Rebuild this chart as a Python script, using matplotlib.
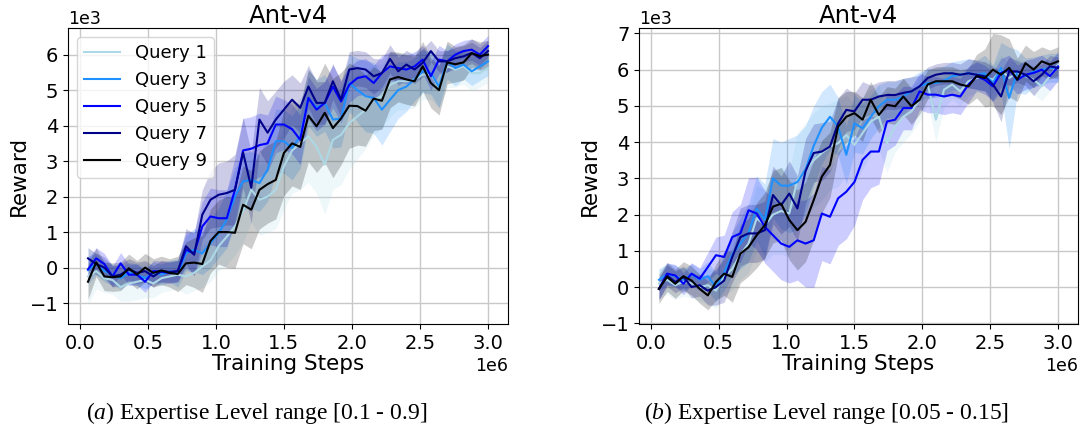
import numpy as np
import matplotlib
matplotlib.use("Agg")
import matplotlib.pyplot as plt
from matplotlib.ticker import MultipleLocator

# ---------------- data (steps in millions, rewards in thousands) ----------------
steps_m = [0.06, 0.12, 0.18, 0.24, 0.30, 0.36, 0.42, 0.48, 0.54, 0.60,
           0.66, 0.72, 0.78, 0.84, 0.90, 0.96, 1.02, 1.08, 1.14, 1.20,
           1.26, 1.32, 1.38, 1.44, 1.50, 1.56, 1.62, 1.68, 1.74, 1.80,
           1.86, 1.92, 1.98, 2.04, 2.10, 2.16, 2.22, 2.28, 2.34, 2.40,
           2.46, 2.52, 2.58, 2.64, 2.70, 2.76, 2.82, 2.88, 2.94, 3.00]

labels = ["Query 1", "Query 3", "Query 5", "Query 7", "Query 9"]
colors = ["lightblue", "dodgerblue", "blue", "darkblue", "black"]

# ----- panel (a) means -----
a_q1 = [-0.25, -0.1, -0.3, -0.35, -0.55, -0.45, -0.4, -0.35, -0.45, -0.3,
        -0.25, -0.2, -0.25, -0.15, 0.03, 0.2, 0.6, 0.87, 1.16, 1.6,
        2.19, 1.91, 2.0, 2.19, 2.85, 3.3, 3.5, 3.7, 3.4, 2.9,
        3.6, 3.74, 4.07, 4.26, 4.45, 4.73, 4.83, 5.15, 5.25, 5.25,
        5.3, 5.44, 5.44, 5.1, 5.67, 5.58, 5.67, 5.48, 5.48, 5.62]
a_q3 = [-0.07, 0.1, -0.1, -0.2, -0.3, -0.15, -0.2, -0.3, -0.15, -0.2,
        -0.1, -0.15, 0.4, 0.5, 0.4, 0.69, 0.97, 1.35, 2.0, 2.43,
        2.47, 2.38, 2.76, 3.56, 3.56, 3.37, 3.7, 4.78, 4.5, 4.64,
        4.17, 4.2, 5.2, 5.0, 4.83, 4.78, 4.45, 4.73, 5.0, 5.1,
        5.3, 5.53, 5.48, 5.1, 5.81, 5.62, 5.72, 5.53, 5.67, 5.81]
a_q5 = [-0.05, 0.26, 0.1, -0.25, 0.12, -0.2, -0.2, -0.4, -0.1, -0.12,
        -0.15, -0.1, 0.5, 0.4, 1.16, 1.44, 1.39, 1.39, 2.19, 3.3,
        3.35, 3.45, 3.5, 4.03, 4.03, 3.9, 3.6, 4.78, 4.45, 4.64,
        5.1, 4.68, 5.15, 5.34, 5.39, 5.2, 5.48, 5.67, 5.62, 5.58,
        5.67, 5.86, 5.39, 5.86, 5.81, 6.0, 6.1, 6.14, 6.0, 6.24]
a_q7 = [0.26, 0.1, 0.0, -0.25, -0.2, -0.05, -0.15, -0.1, -0.25, -0.1,
        -0.12, -0.1, 0.6, 0.36, 1.49, 1.91, 2.05, 2.1, 2.19, 3.24,
        2.25, 4.17, 3.8, 4.17, 4.45, 4.73, 4.5, 5.1, 4.64, 4.64,
        5.25, 4.73, 5.58, 5.62, 5.58, 5.39, 5.48, 5.88, 5.53, 5.72,
        5.58, 5.77, 6.1, 5.81, 5.81, 5.9, 5.95, 6.05, 5.9, 6.1]
a_q9 = [-0.4, 0.15, -0.25, -0.27, -0.25, -0.02, -0.2, 0.0, -0.15, -0.08,
        -0.15, -0.18, 0.12, 0.14, 0.1, 0.75, 1.0, 1.0, 0.98, 1.77,
        1.63, 2.19, 2.35, 2.47, 3.23, 3.5, 3.4, 4.28, 3.98, 4.36,
        3.93, 4.2, 4.56, 4.55, 4.42, 4.76, 4.7, 5.3, 5.37, 5.3,
        5.25, 5.67, 5.2, 5.0, 5.78, 5.73, 5.78, 6.04, 5.96, 6.0]

# ----- panel (a) band half-widths -----
a_s1 = [0.8, 0.5, 0.4, 0.4, 0.4, 0.5, 0.5, 0.5, 0.4, 0.4,
        0.4, 0.4, 0.5, 0.5, 0.6, 0.6, 0.7, 0.8, 0.8, 0.9,
        0.9, 1.0, 1.0, 1.1, 1.2, 1.2, 1.3, 1.3, 1.3, 1.4,
        1.4, 1.4, 1.3, 1.2, 1.1, 1.0, 0.9, 0.9, 0.8, 0.8,
        0.8, 0.7, 0.7, 0.6, 0.6, 0.5, 0.5, 0.5, 0.4, 0.4]
a_s3 = [0.4, 0.3, 0.3, 0.3, 0.3, 0.3, 0.3, 0.3, 0.3, 0.3,
        0.3, 0.4, 0.5, 0.6, 0.6, 0.7, 0.7, 0.8, 0.8, 0.8,
        0.8, 0.8, 0.9, 0.9, 0.9, 0.9, 0.9, 0.8, 0.8, 0.8,
        0.8, 0.8, 0.8, 0.9, 1.0, 1.0, 1.0, 0.9, 0.8, 0.7,
        0.6, 0.6, 0.6, 0.6, 0.5, 0.5, 0.4, 0.4, 0.4, 0.4]
a_s5 = [0.3, 0.3, 0.3, 0.3, 0.3, 0.3, 0.3, 0.3, 0.3, 0.3,
        0.3, 0.3, 0.5, 0.6, 0.7, 0.8, 0.8, 0.8, 0.9, 0.9,
        0.9, 0.9, 0.8, 0.8, 0.7, 0.7, 0.7, 0.6, 0.6, 0.6,
        0.6, 0.6, 0.5, 0.5, 0.5, 0.5, 0.5, 0.4, 0.4, 0.4,
        0.4, 0.4, 0.4, 0.4, 0.3, 0.3, 0.3, 0.3, 0.3, 0.3]
a_s7 = [0.3, 0.3, 0.3, 0.3, 0.3, 0.3, 0.3, 0.3, 0.3, 0.3,
        0.3, 0.3, 0.5, 0.6, 0.7, 0.8, 0.9, 0.9, 1.0, 1.0,
        1.0, 0.9, 0.9, 0.8, 0.8, 0.7, 0.7, 0.6, 0.6, 0.6,
        0.5, 0.5, 0.5, 0.5, 0.5, 0.5, 0.4, 0.4, 0.4, 0.4,
        0.4, 0.4, 0.3, 0.3, 0.3, 0.3, 0.3, 0.3, 0.3, 0.3]
a_s9 = [0.5, 0.4, 0.4, 0.4, 0.4, 0.4, 0.4, 0.4, 0.4, 0.4,
        0.4, 0.5, 0.6, 0.7, 0.8, 0.9, 0.9, 1.0, 1.0, 1.1,
        1.1, 1.1, 1.1, 1.1, 1.2, 1.2, 1.2, 1.3, 1.3, 1.4,
        1.4, 1.3, 1.2, 1.1, 1.0, 0.9, 0.8, 0.8, 0.7, 0.7,
        0.7, 0.7, 0.7, 0.7, 0.6, 0.5, 0.5, 0.4, 0.4, 0.4]

# ----- panel (b) means -----
b_q1 = [0.1, 0.2, 0.05, 0.15, 0.1, 0.0, 0.05, -0.1, 0.3, 0.5,
        0.9, 1.2, 1.9, 1.7, 2.0, 2.1, 2.03, 2.95, 3.23, 3.5,
        3.7, 3.88, 3.97, 4.2, 3.92, 4.25, 4.57, 4.7, 3.97, 4.43,
        4.7, 4.85, 5.17, 5.59, 4.62, 5.45, 5.59, 5.4, 5.68, 5.77,
        5.82, 5.72, 6.0, 5.77, 5.91, 5.82, 5.72, 5.54, 5.82, 6.14]
b_q3 = [0.2, 0.35, 0.3, 0.2, 0.35, 0.2, 0.3, 0.0, 0.4, 0.9,
        1.2, 1.5, 2.17, 1.85, 3.0, 2.8, 2.8, 2.9, 3.25, 3.9,
        4.4, 4.7, 4.43, 3.65, 4.52, 4.38, 4.7, 4.99, 5.17, 5.17,
        5.26, 5.4, 5.54, 5.63, 5.63, 5.7, 5.82, 5.86, 5.9, 5.86,
        5.9, 5.63, 6.05, 5.22, 5.95, 5.82, 5.95, 6.0, 6.05, 6.05]
b_q5 = [-0.05, 0.37, 0.32, 0.09, 0.37, 0.23, 0.55, 0.88, 0.83, 1.38,
        1.48, 2.12, 2.03, 1.66, 1.43, 1.2, 1.11, 1.29, 1.2, 1.29,
        2.03, 1.94, 2.45, 2.63, 2.9, 3.51, 3.74, 3.74, 4.57, 4.62,
        4.94, 4.94, 5.4, 5.31, 5.31, 5.26, 5.31, 5.26, 5.59, 5.82,
        5.72, 5.54, 5.91, 6.0, 5.72, 5.86, 5.91, 6.0, 5.82, 6.09]
b_q7 = [-0.05, 0.32, 0.14, 0.28, 0.0, 0.05, -0.1, 0.0, 0.18, 0.83,
        1.38, 1.48, 1.48, 1.57, 2.54, 2.26, 2.58, 2.17, 3.2, 3.7,
        3.74, 3.88, 4.52, 4.89, 4.85, 5.17, 5.17, 5.26, 5.3, 5.3,
        5.36, 5.4, 5.54, 5.77, 5.86, 5.9, 5.9, 5.86, 5.9, 5.86,
        5.82, 5.59, 5.26, 5.95, 5.95, 5.86, 5.68, 5.86, 6.09, 6.05]
b_q9 = [-0.05, 0.28, 0.09, 0.3, 0.18, -0.05, -0.23, 0.14, 0.37, 0.28,
        0.92, 1.1, 1.43, 1.71, 2.22, 2.3, 1.85, 1.57, 1.8, 2.4,
        3.05, 3.37, 4.43, 4.7, 4.8, 4.62, 5.17, 4.75, 5.03, 4.99,
        5.26, 4.99, 5.17, 5.59, 5.68, 5.68, 5.68, 5.59, 5.54, 5.82,
        5.77, 6.0, 5.86, 6.05, 5.72, 6.18, 6.0, 6.23, 6.14, 6.23]

# ----- panel (b) band half-widths -----
b_s1 = [0.4, 0.4, 0.4, 0.4, 0.4, 0.4, 0.5, 0.5, 0.5, 0.6,
        0.7, 0.8, 0.9, 1.0, 1.1, 1.2, 1.2, 1.3, 1.3, 1.3,
        1.3, 1.2, 1.2, 1.1, 1.1, 1.0, 0.9, 0.9, 0.8, 0.7,
        0.7, 0.6, 0.6, 0.5, 0.6, 0.5, 0.4, 0.4, 0.4, 0.4,
        0.4, 0.4, 0.4, 0.4, 0.4, 0.4, 0.4, 0.4, 0.4, 0.4]
b_s3 = [0.3, 0.3, 0.3, 0.3, 0.3, 0.3, 0.4, 0.4, 0.5, 0.6,
        0.7, 0.8, 0.9, 1.0, 1.1, 1.2, 1.3, 1.3, 1.2, 1.1,
        1.0, 0.9, 0.8, 0.8, 0.8, 0.7, 0.6, 0.6, 0.5, 0.5,
        0.5, 0.4, 0.4, 0.4, 0.4, 0.4, 0.4, 0.4, 0.4, 0.4,
        0.5, 0.5, 0.7, 1.4, 0.6, 0.5, 0.4, 0.4, 0.4, 0.4]
b_s5 = [0.3, 0.3, 0.3, 0.3, 0.3, 0.3, 0.4, 0.5, 0.6, 0.7,
        0.8, 0.9, 1.0, 1.0, 1.0, 1.0, 1.0, 1.1, 1.2, 1.3,
        1.3, 1.3, 1.3, 1.3, 1.2, 1.1, 1.0, 0.9, 0.8, 0.7,
        0.6, 0.6, 0.5, 0.5, 0.5, 0.5, 0.5, 0.5, 0.5, 0.4,
        0.4, 0.4, 0.4, 0.4, 0.4, 0.4, 0.4, 0.4, 0.4, 0.4]
b_s7 = [0.3, 0.3, 0.3, 0.3, 0.3, 0.3, 0.4, 0.5, 0.6, 0.7,
        0.8, 0.8, 0.8, 0.8, 0.8, 0.8, 0.9, 0.9, 0.9, 0.8,
        0.8, 0.7, 0.7, 0.6, 0.5, 0.5, 0.4, 0.4, 0.4, 0.4,
        0.4, 0.4, 0.3, 0.3, 0.3, 0.3, 0.3, 0.3, 0.4, 0.4,
        0.4, 0.5, 0.7, 0.4, 0.3, 0.3, 0.4, 0.3, 0.3, 0.3]
b_s9 = [0.4, 0.4, 0.4, 0.4, 0.4, 0.4, 0.4, 0.5, 0.6, 0.7,
        0.8, 0.8, 0.9, 0.9, 1.0, 1.0, 1.1, 1.1, 1.1, 1.1,
        1.0, 0.9, 0.8, 0.7, 0.6, 0.6, 0.5, 0.5, 0.5, 0.5,
        0.5, 0.5, 0.4, 0.4, 0.4, 0.4, 0.4, 0.4, 0.5, 0.6,
        0.8, 1.0, 1.1, 0.8, 0.6, 0.5, 0.5, 0.4, 0.4, 0.4]

captions = [r"$\mathit{(a)}$ Expertise Level range [0.1 - 0.9]",
            r"$\mathit{(b)}$ Expertise Level range [0.05 - 0.15]"]

panels = [
    ([a_q1, a_q3, a_q5, a_q7, a_q9], [a_s1, a_s3, a_s5, a_s7, a_s9], (-1590, 6750), True),
    ([b_q1, b_q3, b_q5, b_q7, b_q9], [b_s1, b_s3, b_s5, b_s7, b_s9], (-1020, 7150), False),
]

# ---------------- figure ----------------
plt.rcParams["font.family"] = "DejaVu Sans"
plt.rcParams["mathtext.fontset"] = "custom"
plt.rcParams["mathtext.it"] = "Liberation Serif:italic"
plt.rcParams["mathtext.rm"] = "Liberation Serif"

W, H = 1081, 429
fig = plt.figure(figsize=(W / 100, H / 100), dpi=100)
boxes = [(68, 28, 508, 324), (639, 28, 1078, 324)]
cap_x = [257, 826]

x = np.array(steps_m) * 1e6
for (means, spreads, ylim, show_legend), (x0, y0, x1, y1), cx, cap in zip(panels, boxes, cap_x, captions):
    ax = fig.add_axes([x0 / W, 1 - y1 / H, (x1 - x0) / W, (y1 - y0) / H])
    for m, s, c, lab in zip(means, spreads, colors, labels):
        m = np.array(m) * 1e3
        s = np.array(s) * 1e3
        ax.fill_between(x, m - s, m + s, color=c, alpha=0.2, linewidth=0)
        ax.plot(x, m, color=c, lw=1.5, label=lab)
    ax.set_ylim(*ylim)
    ax.yaxis.set_major_locator(MultipleLocator(1000))
    ax.grid(True, color="#c8c8c8", lw=1.0)
    ax.set_axisbelow(True)
    ax.ticklabel_format(axis="both", style="sci", scilimits=(0, 0))
    ax.tick_params(labelsize=14)
    ax.xaxis.get_offset_text().set_fontsize(12.5)
    ax.yaxis.get_offset_text().set_fontsize(12.5)
    ax.set_title("Ant-v4", fontsize=17.5, pad=3)
    ax.set_xlabel("Training Steps", fontsize=15.5, labelpad=1)
    ax.set_ylabel("Reward", fontsize=15.5, labelpad=0.5)
    if show_legend:
        ax.legend(loc="upper left", fontsize=13)
    fig.text(cx / W, 1 - 419 / H, cap, fontsize=17, family="Liberation Serif",
             ha="center", va="baseline")

fig.savefig("out.png", dpi=100)
